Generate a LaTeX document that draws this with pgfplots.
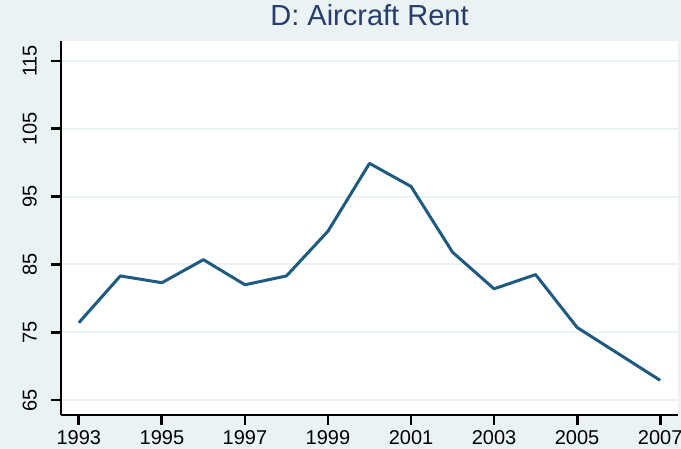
\documentclass[border=0pt]{standalone}
\usepackage{fontspec}
\setmainfont{Liberation Sans}
\usepackage{pgfplots}
\pgfplotsset{compat=1.18}
\definecolor{StBg}{HTML}{EAF2F3}
\definecolor{StGrid}{HTML}{EAF2F3}
\definecolor{StLine}{HTML}{1F5A82}
\definecolor{StTitle}{HTML}{263C6E}

\begin{document}
\begin{tikzpicture}[x=1bp,y=1bp]
\fill[StBg] (0,0) rectangle (681,449);
\useasboundingbox (0,0) rectangle (681,449);
\begin{axis}[
  at={(61bp,34bp)}, anchor=south west,
  scale only axis, width=617bp, height=373.5bp,
  xmin=1992.57, xmax=2007.43, ymin=62.79, ymax=117.88,
  axis x line*=bottom, axis y line*=left,
  axis line style={line width=2.8bp, black},
  axis background/.style={fill=white},
  xtick={1993,1995,...,2007}, ytick={65,75,...,115},
  tick align=outside, major tick length=10bp,
  tick style={line width=2.8bp, black},
  ymajorgrids, grid style={StGrid, line width=2bp},
  /pgf/number format/assume math mode=true,
  /pgf/number format/1000 sep={},
  tick label style={font=\fontsize{20bp}{20bp}\selectfont, text=black},
  xticklabel style={anchor=north, inner sep=0pt, yshift=-5bp},
  yticklabel style={xshift=-14bp, rotate=90, anchor=south, inner sep=0pt},
  title={D: Aircraft Rent},
  title style={font=\fontsize{29bp}{29bp}\selectfont, text=StTitle,
    at={(0.5,1)}, anchor=south, inner sep=0pt, yshift=10bp},
]
\addplot[StLine, line width=3bp, line join=round, mark=none] coordinates {
  (1993,76.4) (1994,83.3) (1995,82.3) (1996,85.7) (1997,82.0)
  (1998,83.3) (1999,89.9) (2000,99.9) (2001,96.5) (2002,86.8)
  (2003,81.4) (2004,83.5) (2005,75.7) (2006,71.8) (2007,67.9)
};
\end{axis}
\end{tikzpicture}
\end{document}
